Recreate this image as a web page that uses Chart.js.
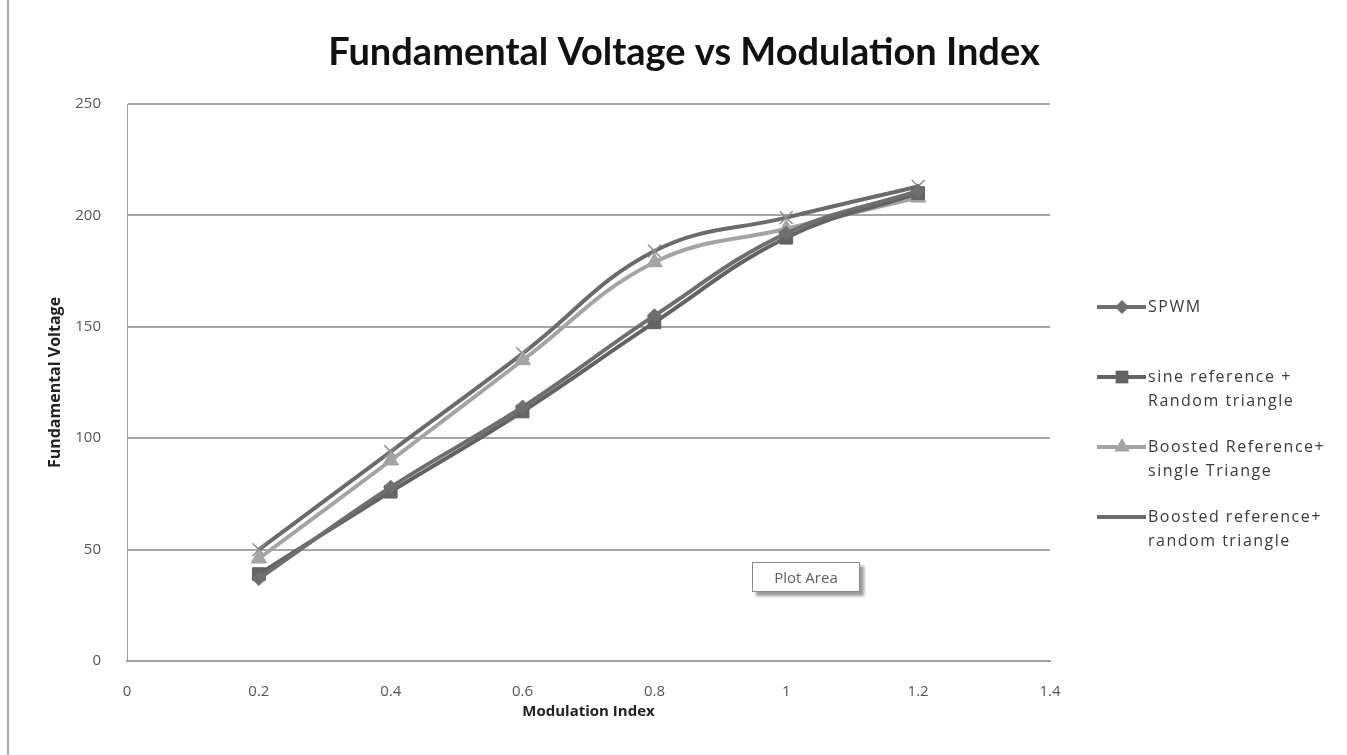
<!DOCTYPE html>
<html>
<head>
<meta charset="utf-8">
<script src="https://cdn.jsdelivr.net/npm/chart.js@4/dist/chart.umd.min.js"></script>
<style>
  html, body { margin: 0; padding: 0; background: #fff; }
  #wrap { position: relative; width: 1347px; height: 755px; overflow: hidden; }
  #edge { position: absolute; left: 7px; top: 0; width: 2px; height: 755px; background: #a8a8a8; }
  #tip {
    position: absolute; left: 752px; top: 562px; width: 106px; height: 28px;
    border: 1px solid #8a8a8a; background: #fff; box-shadow: 4px 4px 3px #9a9a9a;
    font: 15px 'Open Sans', sans-serif; color: #5e5e5e; text-align: center; line-height: 28px;
  }
</style>
</head>
<body>
<div id="wrap">
  <canvas id="c" width="1347" height="755"></canvas>
  <div id="edge"></div>
  <div id="tip">Plot Area</div>
</div>
<script>
// Fundamental voltage vs modulation index
var modIndex = [0.2, 0.4, 0.6, 0.8, 1.0, 1.2];
var spwm = [37, 78, 114, 155, 192, 211];
var sineRandom = [39, 76, 112, 152, 190, 210];
var boostedSingle = [46, 90, 135, 179, 194, 208];
var boostedRandom = [50, 94, 138, 184, 199, 213];

var seriesLabels = [
  ['SPWM'],
  ['sine reference +', 'Random triangle'],
  ['Boosted Reference+', 'single Triange'],
  ['Boosted reference+', 'random triangle']
];

// greyscale versions of the default office palette
var COLORS = ['#6e6e6e', '#636363', '#a4a4a4', '#6b6b6b'];
var MARKER_EDGE = ['#6e6e6e', '#636363', '#a4a4a4', '#8c8c8c'];
var MARKERS = ['rectRot', 'rect', 'triangle', 'crossRot'];
var RADII = [7, 9, 9, 9];

function pts(values) {
  return values.map(function(v, i) { return { x: modIndex[i], y: v }; });
}

var allSeries = [spwm, sineRandom, boostedSingle, boostedRandom];
var datasets = allSeries.map(function(vals, i) {
  return {
    label: seriesLabels[i].join(' '),
    data: pts(vals),
    borderColor: COLORS[i],
    backgroundColor: COLORS[i],
    pointBorderColor: MARKER_EDGE[i],
    pointStyle: MARKERS[i],
    pointRadius: RADII[i],
    pointBorderWidth: i === 3 ? 1.5 : 1,
    borderWidth: 4,
    tension: 0.4,
    fill: false,
    showLine: true
  };
});

// title + multi-line legend drawn on the canvas
var decorations = {
  id: 'decorations',
  afterDraw: function(chart) {
    var ctx = chart.ctx;
    ctx.save();
    ctx.fillStyle = '#111';
    ctx.font = "bold 38px Lato, sans-serif";
    ctx.textAlign = 'center';
    ctx.textBaseline = 'middle';
    ctx.fillText('Fundamental Voltage vs Modulation Index', 684, 53);

    var rows = [[307], [377, 401], [447, 471], [517, 541]];
    ctx.textAlign = 'left';
    rows.forEach(function(r, i) {
      var y = r[0];
      ctx.strokeStyle = COLORS[i];
      ctx.lineWidth = 4;
      ctx.beginPath();
      ctx.moveTo(1097, y);
      ctx.lineTo(1146, y);
      ctx.stroke();
      ctx.fillStyle = COLORS[i];
      ctx.strokeStyle = MARKER_EDGE[i];
      ctx.lineWidth = 1.5;
      Chart.helpers.drawPoint(ctx, { pointStyle: MARKERS[i], radius: RADII[i], rotation: 0 }, 1122, y);
      ctx.fillStyle = '#3a3a3a';
      ctx.font = "16px 'Open Sans', sans-serif";
      ctx.letterSpacing = '1.5px';
      seriesLabels[i].forEach(function(t, k) {
        ctx.fillText(t, 1148, r[k]);
      });
      ctx.letterSpacing = '0px';
    });
    ctx.restore();
  }
};

new Chart(document.getElementById('c').getContext('2d'), {
  type: 'scatter',
  data: { datasets: datasets },
  options: {
    responsive: false,
    animation: false,
    layout: { padding: { top: 104, right: 297, left: 0, bottom: 0 } },
    plugins: {
      legend: { display: false },
      tooltip: { enabled: false }
    },
    scales: {
      x: {
        type: 'linear',
        min: 0,
        max: 1.4,
        afterFit: function(s) { s.height = 94; },
        grid: { display: false, drawTicks: false },
        border: { display: true, color: '#a0a0a0', width: 2 },
        ticks: {
          stepSize: 0.2,
          padding: 22,
          color: '#555',
          font: { family: "'Open Sans', sans-serif", size: 15 },
          callback: function(v) { return String(Math.round(v * 10) / 10); }
        },
        title: {
          display: true,
          text: 'Modulation Index',
          color: '#222',
          font: { family: "'Open Sans', sans-serif", size: 15, weight: 'bold' },
          padding: { top: 0, bottom: 34 }
        }
      },
      y: {
        min: 0,
        max: 250,
        afterFit: function(s) { s.width = 127; },
        grid: { color: '#a6a6a6', lineWidth: 2, drawTicks: false },
        border: { display: true, color: '#a0a0a0', width: 1 },
        ticks: {
          stepSize: 50,
          padding: 26,
          color: '#555',
          font: { family: "'Open Sans', sans-serif", size: 15 }
        },
        title: {
          display: true,
          text: 'Fundamental Voltage',
          color: '#222',
          font: { family: "'Open Sans', sans-serif", size: 16, weight: 'bold' },
          padding: { top: 46, bottom: 0 }
        }
      }
    }
  },
  plugins: [decorations]
});
</script>
</body>
</html>
